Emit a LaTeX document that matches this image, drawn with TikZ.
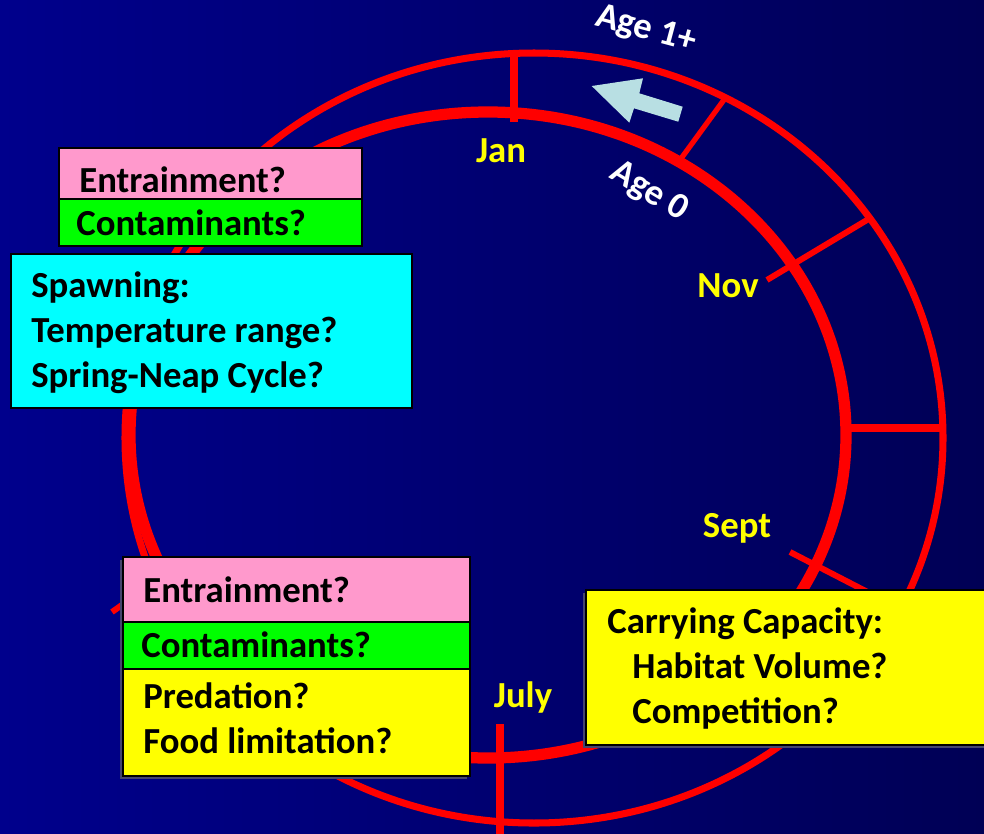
\documentclass[tikz,border=0pt]{standalone}
\usepackage{fontspec}
\setmainfont{Carlito}
\usepackage{xcolor}

\begin{document}
\begin{tikzpicture}[x=0.02cm,y=-0.02cm,
  every node/.style={font=\bfseries\fontsize{20.9}{25}\selectfont,inner sep=0pt},
  boxtext/.style={anchor=base west,text=black},
  monthlabel/.style={anchor=base,text=labelyellow},
  agelabel/.style={text=white}]
\definecolor{bgleft}{RGB}{0,0,140};
\definecolor{bgright}{RGB}{0,0,85};
\definecolor{entrainpink}{RGB}{255,153,204};
\definecolor{contamgreen}{RGB}{0,255,0};
\definecolor{spawncyan}{RGB}{0,255,255};
\definecolor{boxyellow}{RGB}{255,255,0};
\definecolor{labelyellow}{RGB}{255,255,0};
\definecolor{arrowblue}{RGB}{184,223,227};
\definecolor{ringred}{RGB}{255,0,0};
\definecolor{boxshadow}{RGB}{70,70,110};
\def\outerwidth{4pt};
\def\innerwidth{6.4pt};

\useasboundingbox (0,0) rectangle (984,833);
\clip (0,0) rectangle (984,833);

% Background
\shade[left color=bgleft,right color=bgright] (0,0) rectangle (984,833);

% Age 1+ ring and Age 0 ring
\draw[ringred,line width=\outerwidth] (534,438) ellipse [x radius=409,y radius=385];
\draw[ringred,line width=\innerwidth] (488,435) ellipse [x radius=358,y radius=323];

% Month ticks
\draw[ringred,line width=4pt] (514,50) -- (514,122);
\draw[ringred,line width=3pt] (680,160) -- (726,97);
\draw[ringred,line width=3.4pt] (767,280) -- (872,217);
\draw[ringred,line width=5pt] (850,428) -- (944,428);
\draw[ringred,line width=3.4pt] (790,552) -- (885,601);
\draw[ringred,line width=3pt] (713,688) -- (776,751);
\draw[ringred,line width=5pt] (500,724) -- (500,840);
\draw[ringred,line width=3.4pt] (112,612) -- (150,585);

% Arrow
\fill[arrowblue] (591.7,86) -- (643,78.3) -- (639.3,93.3) -- (682.7,106.7)
  -- (678.3,121.7) -- (634,108.3) -- (629.3,122.7) -- cycle;

% Labels
\node[agelabel,rotate=-15] (age1) at (646,30) {Age 1+};
\node[agelabel,rotate=-31] (age0) at (649,192) {Age 0};
\node[monthlabel] (jan) at (501,162) {Jan};
\node[monthlabel] (nov) at (728,297) {Nov};
\node[monthlabel] (sept) at (737,537) {Sept};
\node[monthlabel] (july) at (523,707) {July};

% Upper left boxes
\filldraw[fill=entrainpink,line width=1.2pt] (59,148) rectangle (362,199);
\filldraw[fill=contamgreen,line width=1.2pt] (59,199) rectangle (362,246);
\filldraw[fill=spawncyan,line width=1.2pt] (11,254) rectangle (412,408);
\node[boxtext] (entrain1) at (79,192) {Entrainment?};
\node[boxtext] (contam1) at (76,235) {Contaminants?};
\node[boxtext] (spawn) at (31,297) {Spawning:};
\node[boxtext] (temp) at (31,342) {Temperature range?};
\node[boxtext] (tide) at (31,387) {Spring-Neap Cycle?};

% Lower left boxes
\fill[boxshadow] (120,560) rectangle (467,779);
\filldraw[fill=entrainpink,line width=1.2pt] (123,557) rectangle (470,622);
\filldraw[fill=contamgreen,line width=1.2pt] (123,622) rectangle (470,669);
\filldraw[fill=boxyellow,line width=1.2pt] (123,669) rectangle (470,776);
\node[boxtext] (entrain2) at (143,602) {Entrainment?};
\node[boxtext] (contam2) at (141,657) {Contaminants?};
\node[boxtext] (pred) at (143,708) {Predation?};
\node[boxtext] (food) at (143,753) {Food limitation?};

% Right box
\fill[boxshadow] (583,593) rectangle (990,748);
\filldraw[fill=boxyellow,line width=1.2pt] (586,590) rectangle (995,745);
\node[boxtext] (carry) at (607,633) {Carrying Capacity:};
\node[boxtext] (habitat) at (632,678) {Habitat Volume?};
\node[boxtext] (compet) at (632,723) {Competition?};
\end{tikzpicture}
\end{document}
